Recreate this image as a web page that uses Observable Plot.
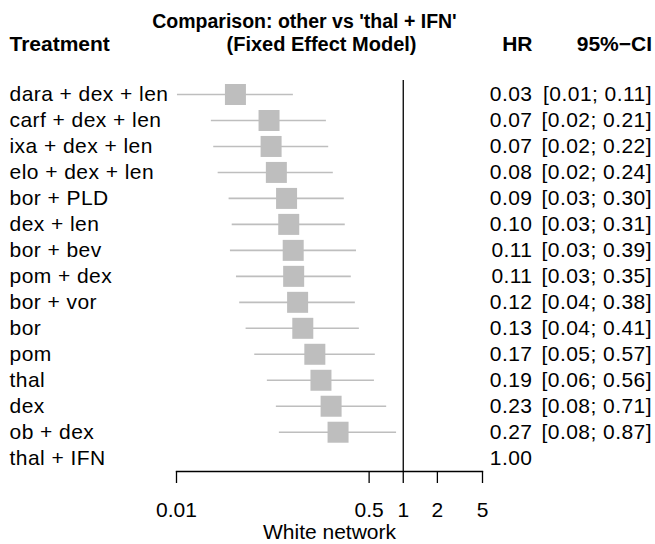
<!DOCTYPE html>
<html><head><meta charset="utf-8">
<script src="https://cdn.jsdelivr.net/npm/d3@7"></script>
<script src="https://cdn.jsdelivr.net/npm/@observablehq/plot@0.6"></script>
<style>body{margin:0;background:#fff} .body text{letter-spacing:0.45px}</style>
</head><body><div id="chart"></div>
<script>
const treatments = ["dara + dex + len","carf + dex + len","ixa + dex + len","elo + dex + len","bor + PLD","dex + len","bor + bev","pom + dex","bor + vor","bor","pom","thal","dex","ob + dex","thal + IFN"];
const hr    = [0.0331,0.0655,0.0683,0.076,0.0935,0.0977,0.107,0.108,0.117,0.130,0.166,0.188,0.231,0.266,1];
const lower = [0.0102,0.0203,0.0213,0.0233,0.0291,0.031,0.0299,0.0338,0.0361,0.0411,0.049,0.0633,0.076,0.0808,null];
const upper = [0.1074,0.210,0.220,0.2416,0.302,0.308,0.387,0.348,0.378,0.410,0.567,0.557,0.714,0.873,null];
const axisTicks = [0.01,0.5,1,2,5];
const title1 = "Comparison: other vs 'thal + IFN'";
const title2 = "(Fixed Effect Model)";
const xLabel = "White network";

const f2 = d3.format(".2f");
const rows = treatments.map((name,i)=>({name, row:i, hr:hr[i], lower:lower[i], upper:upper[i]}));
const withCI = rows.filter(d=>d.lower!=null);
const ciText = d => d.lower==null ? "" : `[${f2(d.lower)}; ${f2(d.upper)}]`;
const grey = "#bebebe";
const FS = 21;
const one = [0];
const mid = {lineAnchor:"middle"};

const chart = Plot.plot({
  width:655, height:544,
  marginLeft:176, marginRight:173, marginTop:80, marginBottom:73,
  x:{type:"log", domain:[0.01,5]},
  y:{type:"linear", domain:[0, treatments.length-1], range:[94,457.7], axis:null},
  style:{fontFamily:"'Liberation Sans', Arial, Helvetica, sans-serif", fontSize:FS+"px", color:"black", background:"white"},
  marks:[
    Plot.ruleX([1], {stroke:"black", strokeWidth:1.3}),
    Plot.ruleY(withCI, {x1:"lower", x2:"upper", y:"row", stroke:grey, strokeWidth:1.6}),
    Plot.dot(withCI, {x:"hr", y:"row", symbol:"square", r:11.85, fill:grey, stroke:null}),
    Plot.frame({anchor:"bottom", stroke:"black", strokeWidth:1.3}),
    Plot.axisX({ticks:axisTicks, tickFormat:()=>"", tickSize:12, label:null, strokeWidth:1.3}),
    Plot.text(axisTicks, {x:d=>d, frameAnchor:"bottom", text:d=>String(d), dy:39, fontSize:FS, ...mid}),
    Plot.text(one, {frameAnchor:"bottom", text:()=>xLabel, dy:61, fontSize:FS, ...mid}),
    Plot.text(rows, {frameAnchor:"left", y:"row", text:"name", textAnchor:"start", dx:-167, fontSize:FS, className:"body", ...mid}),
    Plot.text(rows, {frameAnchor:"right", y:"row", text:d=>f2(d.hr), textAnchor:"end", dx:50, fontSize:FS, className:"body", ...mid}),
    Plot.text(rows, {frameAnchor:"right", y:"row", text:ciText, textAnchor:"end", dx:169.5, fontSize:FS, className:"body", ...mid}),
    Plot.text(one, {frameAnchor:"top-left", text:()=>"Treatment", textAnchor:"start", dx:-167, dy:-36, fontWeight:"bold", fontSize:FS, ...mid}),
    Plot.text(one, {frameAnchor:"top-right", text:()=>"HR", textAnchor:"end", dx:50, dy:-36, fontWeight:"bold", fontSize:FS, ...mid}),
    Plot.text(one, {frameAnchor:"top-right", text:()=>"95%−CI", textAnchor:"end", dx:169.5, dy:-36, fontWeight:"bold", fontSize:FS, ...mid}),
    Plot.text(one, {frameAnchor:"top", text:()=>title1, dx:-25, dy:-59, fontWeight:"bold", fontSize:19.5, ...mid}),
    Plot.text(one, {frameAnchor:"top", text:()=>title2, dx:-8, dy:-36, fontWeight:"bold", fontSize:20, ...mid})
  ]
});
document.getElementById("chart").appendChild(chart);
</script>
</body></html>
